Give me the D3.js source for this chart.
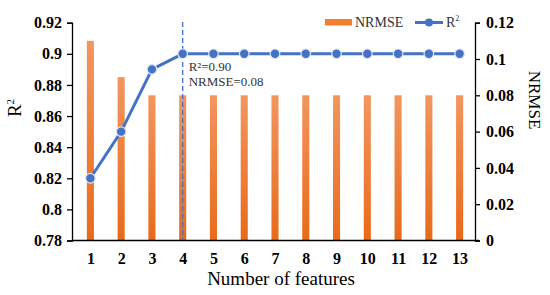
<!DOCTYPE html>
<html><head><meta charset="utf-8">
<script src="https://cdn.jsdelivr.net/npm/d3@7"></script>
<style>body{margin:0;background:#fff}svg{display:block}
svg text{font-family:"Liberation Serif","Times New Roman",Tinos,"DejaVu Serif",serif !important;}
</style>
</head><body>
<svg id="c" width="550" height="295"></svg>
<script>
const categories = ["1","2","3","4","5","6","7","8","9","10","11","12","13"];
const nrmse = [0.11,0.09,0.08,0.08,0.08,0.08,0.08,0.08,0.08,0.08,0.08,0.08,0.08];
const r2 = [0.82,0.85,0.89,0.90,0.90,0.90,0.90,0.90,0.90,0.90,0.90,0.90,0.90];
const leftTicks = [0.78,0.8,0.82,0.84,0.86,0.88,0.9,0.92];
const rightTicks = [0,0.02,0.04,0.06,0.08,0.1,0.12];
const bestIndex = 3;
const annotation = ["R²=0.90","NRMSE=0.08"];

const svg = d3.select("#c");
const blue = "#4472c4";

const x = d3.scalePoint().domain(categories).range([75,475]).padding(0.5);
const yL = d3.scaleLinear().domain([0.78,0.92]).range([240.5,22.7]);
const yR = d3.scaleLinear().domain([0,0.12]).range([240.5,22.7]);
const barW = x.step()*0.23;

const defs = svg.append("defs");
const g = defs.append("linearGradient").attr("id","bg").attr("x1",0).attr("y1",0).attr("x2",0).attr("y2",1);
g.append("stop").attr("offset","0%").attr("stop-color","#f29660");
g.append("stop").attr("offset","100%").attr("stop-color","#e86a1a");

// bars
svg.append("g").selectAll("rect").data(nrmse).join("rect")
  .attr("x",(d,i)=>x(categories[i])-barW/2)
  .attr("width",barW)
  .attr("y",d=>yR(d))
  .attr("height",d=>yR(0)-yR(d))
  .attr("fill","url(#bg)");

// axes
const axL = svg.append("g").attr("transform","translate(72,0)")
  .call(d3.axisLeft(yL).tickValues(leftTicks).tickFormat(d3.format("~g")).tickSizeOuter(0).tickSize(5).tickPadding(5));
const axR = svg.append("g").attr("transform","translate(475,0)")
  .call(d3.axisRight(yR).tickValues(rightTicks).tickFormat(d3.format("~g")).tickSizeOuter(0).tickSize(5).tickPadding(6));
const axB = svg.append("g").attr("transform","translate(0,240.5)")
  .call(d3.axisBottom(x).tickSize(0).tickPadding(12));
axB.select(".domain").attr("d","M72,0H479");
[axL,axR,axB].forEach(a=>{
  a.attr("font-family",null);
  a.selectAll("path,line").attr("stroke","#000").attr("stroke-width",1.3);
  a.selectAll("text").attr("font-weight","bold").attr("font-size",16).attr("fill","#000");
});

// dashed line at best
svg.append("line")
  .attr("x1",x(categories[bestIndex])).attr("x2",x(categories[bestIndex]))
  .attr("y1",22).attr("y2",240)
  .attr("stroke",blue).attr("stroke-width",1.3).attr("stroke-dasharray","5,3");

// R2 line
svg.append("path").datum(r2)
  .attr("d",d3.line().x((d,i)=>x(categories[i])).y(d=>yL(d)))
  .attr("fill","none").attr("stroke",blue).attr("stroke-width",3);
svg.append("g").selectAll("circle").data(r2).join("circle")
  .attr("cx",(d,i)=>x(categories[i])).attr("cy",d=>yL(d)).attr("r",4.8)
  .attr("fill",blue).attr("stroke","#dfe6f3").attr("stroke-width",1.2);

// annotation
svg.append("g").selectAll("text").data(annotation).join("text")
  .attr("x",x(categories[bestIndex])+6).attr("y",(d,i)=>71+i*15)
  .attr("font-size",13).attr("fill","#333").text(d=>d);

// axis titles
svg.append("text").attr("transform","translate(281,285)").attr("text-anchor","middle")
  .attr("font-size",19).text("Number of features");
svg.append("text").attr("transform","translate(21,108) rotate(-90)").attr("text-anchor","middle")
  .attr("font-size",19).html("R<tspan font-size='11' dy='-7'>2</tspan>");
svg.append("text").attr("transform","translate(529,100) rotate(90)").attr("text-anchor","middle")
  .attr("font-size",17).text("NRMSE");

// legend
const lg = svg.append("g");
lg.append("rect").attr("x",325).attr("y",19).attr("width",27).attr("height",6.5).attr("fill","#f07f30");
lg.append("text").attr("x",355).attr("y",26.5).attr("font-size",14).attr("fill","#333").text("NRMSE");
lg.append("line").attr("x1",415).attr("x2",443).attr("y1",22.5).attr("y2",22.5).attr("stroke",blue).attr("stroke-width",3);
lg.append("circle").attr("cx",429).attr("cy",22.5).attr("r",4).attr("fill",blue);
lg.append("text").attr("x",446).attr("y",26.5).attr("font-size",14).attr("fill","#333")
  .html("R<tspan font-size='8' dy='-6'>2</tspan>");
</script>
</body></html>
